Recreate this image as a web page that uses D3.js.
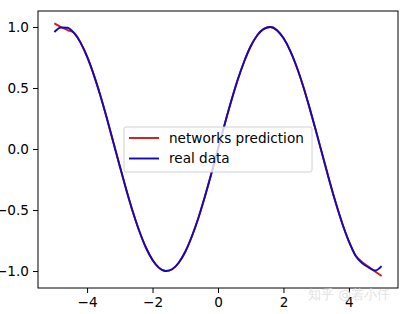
<!DOCTYPE html>
<html lang="en">
<head>
    <meta charset="UTF-8">
    <title>networks prediction vs real data</title>
    <script src="https://d3js.org/d3.v7.min.js"></script>
    <style>
        body { margin: 0; background: #fff; }
        text { font-family: "DejaVu Sans", sans-serif; }
    </style>
</head>
<body>
    <svg id="chart" width="403" height="314"></svg>
    <script>
        // x samples, real data and the network output
        const xs = [-5, -4.8, -4.6, -4.4, -4.2, -4, -3.8, -3.6, -3.4, -3.2, -3, -2.8, -2.6, -2.4, -2.2, -2,
            -1.8, -1.6, -1.4, -1.2, -1, -0.8, -0.6, -0.4, -0.2, 0, 0.2, 0.4, 0.6, 0.8, 1, 1.2, 1.4, 1.6, 1.8, 2,
            2.2, 2.4, 2.6, 2.8, 3, 3.2, 3.4, 3.6, 3.8, 4, 4.2, 4.4, 4.6, 4.8, 5];
        const realData = [0.959, 0.996, 0.994, 0.952, 0.872, 0.757, 0.612, 0.443, 0.256, 0.058, -0.141, -0.335,
            -0.516, -0.676, -0.809, -0.909, -0.974, -1.0, -0.985, -0.932, -0.842, -0.717, -0.565, -0.389, -0.199, 0,
            0.199, 0.389, 0.565, 0.717, 0.842, 0.932, 0.985, 1.0, 0.974, 0.909, 0.809, 0.676, 0.516, 0.335, 0.141,
            -0.058, -0.256, -0.443, -0.612, -0.757, -0.872, -0.935, -0.97, -0.996, -0.959];
        const prediction = [1.03, 1.0, 0.975, 0.952, 0.872, 0.757, 0.612, 0.443, 0.256, 0.058, -0.141, -0.335,
            -0.516, -0.676, -0.809, -0.909, -0.974, -1.0, -0.985, -0.932, -0.842, -0.717, -0.565, -0.389, -0.199, 0,
            0.199, 0.389, 0.565, 0.717, 0.842, 0.932, 0.985, 1.0, 0.974, 0.909, 0.809, 0.676, 0.516, 0.335, 0.141,
            -0.058, -0.256, -0.443, -0.612, -0.757, -0.872, -0.925, -0.965, -1.003, -1.04];
        const xTicks = [-4, -2, 0, 2, 4];
        const yTicks = [-1.0, -0.5, 0.0, 0.5, 1.0];
        const labels = ['networks prediction', 'real data'];
        const colors = ['#cc1a1a', '#1508b8'];

        const svg = d3.select('#chart');
        const plotLeft = 38, plotRight = 398, plotTop = 11, plotBottom = 288;
        const fontSize = 13.6;

        const x = d3.scaleLinear().domain([-5.5, 5.5]).range([plotLeft, plotRight]);
        const y = d3.scaleLinear().domain([-1.139, 1.131]).range([plotBottom, plotTop]);

        // axes
        svg.append('g')
            .attr('transform', `translate(0,${plotBottom})`)
            .call(d3.axisBottom(x).tickValues(xTicks).tickSize(5).tickPadding(4)
                .tickFormat(d => d < 0 ? '\u2212' + Math.abs(d) : d))
            .call(g => g.select('.domain').remove())
            .call(g => g.selectAll('text').attr('font-size', fontSize).attr('fill', '#000'));

        svg.append('g')
            .attr('transform', `translate(${plotLeft},0)`)
            .call(d3.axisLeft(y).tickValues(yTicks).tickSize(5).tickPadding(4)
                .tickFormat(d => (d < 0 ? '\u2212' : '') + Math.abs(d).toFixed(1)))
            .call(g => g.select('.domain').remove())
            .call(g => g.selectAll('text').attr('font-size', fontSize).attr('fill', '#000'));

        // lines
        const series = [prediction, realData];
        const line = d3.line()
            .x((d, i) => x(xs[i]))
            .y(d => y(d))
            .curve(d3.curveMonotoneX);

        series.forEach((s, k) => {
            svg.append('path')
                .datum(s)
                .attr('d', line)
                .attr('fill', 'none')
                .attr('stroke', colors[k])
                .attr('stroke-width', 1.9);
        });

        // frame
        svg.append('rect')
            .attr('x', plotLeft).attr('y', plotTop)
            .attr('width', plotRight - plotLeft).attr('height', plotBottom - plotTop)
            .attr('fill', 'none').attr('stroke', '#000').attr('stroke-width', 1);

        // legend
        const lg = svg.append('g').attr('transform', 'translate(124,127)');
        lg.append('rect')
            .attr('width', 188).attr('height', 45).attr('rx', 2)
            .attr('fill', 'rgba(255,255,255,0.8)')
            .attr('stroke', '#d0d0d0').attr('stroke-width', 1);
        labels.forEach((t, i) => {
            const cy = 11 + i * 20.5;
            lg.append('line')
                .attr('x1', 5).attr('x2', 35).attr('y1', cy).attr('y2', cy)
                .attr('stroke', colors[i]).attr('stroke-width', 1.9);
            lg.append('text')
                .attr('x', 45).attr('y', cy).attr('dy', '0.35em')
                .attr('font-size', fontSize).text(t);
        });

        // watermark
        svg.append('text')
            .attr('x', 308).attr('y', 299)
            .attr('font-family', 'Noto Sans CJK SC')
            .attr('font-size', 13).attr('fill', '#e2e2e2')
            .text('知乎 @若小仟');
    </script>
</body>
</html>
